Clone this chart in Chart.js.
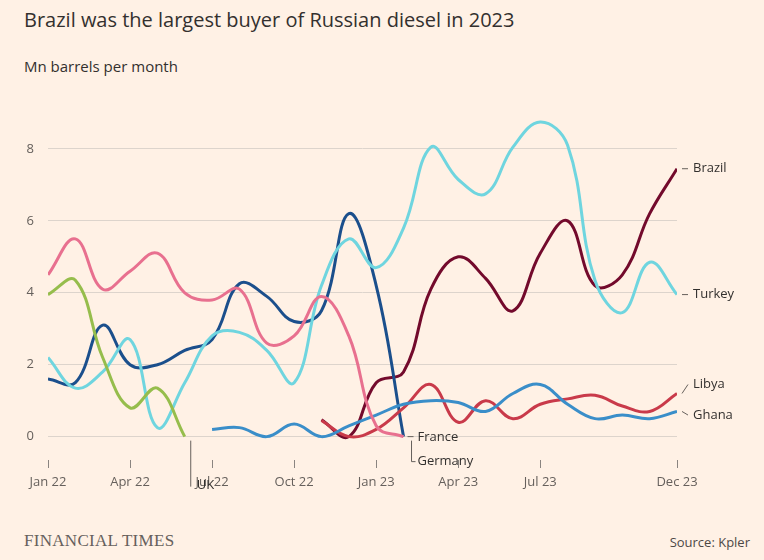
<!DOCTYPE html>
<html><head><meta charset="utf-8">
<script src="https://cdn.jsdelivr.net/npm/chart.js@4"></script>
<style>
html,body{margin:0;padding:0;background:#FFF1E5;width:764px;height:560px;overflow:hidden;font-family:"Open Sans",Lato,sans-serif;color:#33302e}
#t{position:absolute;left:24px;top:6px;font-size:20px;}
#s{position:absolute;left:24px;top:56px;font-size:15px;}
#ft{position:absolute;left:24px;top:531px;font-family:"Liberation Serif",serif;font-size:17px;color:#66605c;letter-spacing:0.3px}
#src{position:absolute;right:14px;top:533px;font-size:13px;color:#4d4845}
canvas{position:absolute;left:0;top:0}
</style></head><body>
<div id="t">Brazil was the largest buyer of Russian diesel in 2023</div>
<div id="s">Mn barrels per month</div>
<div id="ft">FINANCIAL TIMES</div>
<div id="src">Source: Kpler</div>
<canvas id="c" width="764" height="560"></canvas>
<script>
const months=["Jan 22","Feb 22","Mar 22","Apr 22","May 22","Jun 22","Jul 22","Aug 22","Sep 22","Oct 22","Nov 22","Dec 22","Jan 23","Feb 23","Mar 23","Apr 23","May 23","Jun 23","Jul 23","Aug 23","Sep 23","Oct 23","Nov 23","Dec 23"];
const tickLabels={0:"Jan 22",3:"Apr 22",6:"Jul 22",9:"Oct 22",12:"Jan 23",15:"Apr 23",18:"Jul 23",23:"Dec 23"};
const yTicks=[0,2,4,6,8];
const brazil={start:10,values:[0.47,0.0,1.5,1.8,4.1,5.0,4.4,3.5,5.1,6.0,4.2,4.5,6.2,7.45]};
const turkey={start:0,values:[2.2,1.35,1.8,2.7,0.25,1.5,2.8,2.9,2.4,1.5,4.2,5.5,4.7,5.8,8.05,7.15,6.75,8.05,8.75,8.1,4.35,3.45,4.85,3.95]};
const france={start:0,values:[4.5,5.5,4.1,4.6,5.1,4.0,3.8,4.1,2.6,2.8,3.9,2.8,0.3,0.0]};
const germany={start:0,values:[1.6,1.5,3.1,2.0,2.0,2.4,2.7,4.25,3.9,3.2,3.5,6.2,4.2,0.0]};
const uk={start:0,values:[3.95,4.35,2.2,0.8,1.35,0.0]};
const ghana={start:6,values:[0.2,0.25,0.0,0.35,0.0,0.3,0.6,0.9,1.0,0.95,0.7,1.2,1.45,0.9,0.5,0.6,0.5,0.7]};
const libya={start:10,values:[0.45,0.0,0.2,0.8,1.45,0.4,1.0,0.5,0.9,1.05,1.15,0.85,0.7,1.2]};
const pts=s=>s.values.map((v,i)=>({x:s.start+i,y:v}));
const mk=(label,s,color)=>({label,data:pts(s),borderColor:color,borderWidth:3,pointRadius:0,tension:0.4,fill:false});
const datasets=[
 mk("UK",uk,"#96bd4c"),
 mk("France",france,"#e8708f"),
 mk("Turkey",turkey,"#6fd5df"),
 mk("Ghana",ghana,"#3a8ec9"),
 mk("Libya",libya,"#c93a4a"),
 mk("Germany",germany,"#1b4f8c"),
 mk("Brazil",brazil,"#730a2c")
];
const labelPlugin={id:"lbl",afterDatasetsDraw(ch){
 const c=ch.ctx,x=ch.scales.x,y=ch.scales.y;
 c.save();c.font="13px 'Open Sans', sans-serif";c.fillStyle="#33302e";c.strokeStyle="#66605c";c.lineWidth=1;c.textBaseline="middle";
 const end=[["Brazil",7.45,7.45],["Turkey",3.95,3.95],["Libya",1.2,1.45],["Ghana",0.7,0.6]];
 end.forEach(([n,v,lv])=>{const px=x.getPixelForValue(23),py=y.getPixelForValue(v),ly=y.getPixelForValue(lv);
  c.beginPath();c.moveTo(px+5,py);c.lineTo(px+11,ly);c.stroke();c.fillText(n,px+16,ly);});
 let fx=x.getPixelForValue(13),fy=y.getPixelForValue(0);
 c.beginPath();c.moveTo(fx+4,fy);c.lineTo(fx+10,fy);c.stroke();c.fillText("France",fx+14,fy+1);
 c.beginPath();c.moveTo(fx+8,fy+4);c.lineTo(fx+8,fy+25);c.lineTo(fx+12,fy+25);c.stroke();c.fillText("Germany",fx+14,fy+25);
 let ux=x.getPixelForValue(5)+6;
 c.beginPath();c.moveTo(ux,fy+4);c.lineTo(ux,fy+50);c.stroke();c.fillText("UK",ux+6,fy+49);
 c.restore();}};
new Chart(document.getElementById("c"),{type:"line",data:{datasets},
 options:{responsive:false,animation:false,events:[],
  layout:{padding:{left:20,right:87,top:95,bottom:60}},
  plugins:{legend:{display:false},tooltip:{enabled:false}},
  scales:{
   x:{type:"linear",min:0,max:23,afterFit:s=>{s.height=40},
    afterBuildTicks:s=>{s.ticks=Object.keys(tickLabels).map(k=>({value:+k}))},
    ticks:{callback:v=>tickLabels[v]||"",color:"#66605c",font:{size:13,family:"'Open Sans', sans-serif"},maxRotation:0,autoSkip:false,padding:6},
    grid:{drawOnChartArea:false,tickLength:8,color:"#8a8480"},border:{display:false}},
   y:{min:-0.65,max:9.5,afterFit:s=>{s.width=28},
    afterBuildTicks:s=>{s.ticks=yTicks.map(v=>({value:v}))},
    ticks:{color:"#66605c",font:{size:13,family:"'Open Sans', sans-serif"},padding:14},
    grid:{color:"#ddd4cc",tickLength:0},border:{display:false}}
  }},plugins:[labelPlugin]});
</script></body></html>
